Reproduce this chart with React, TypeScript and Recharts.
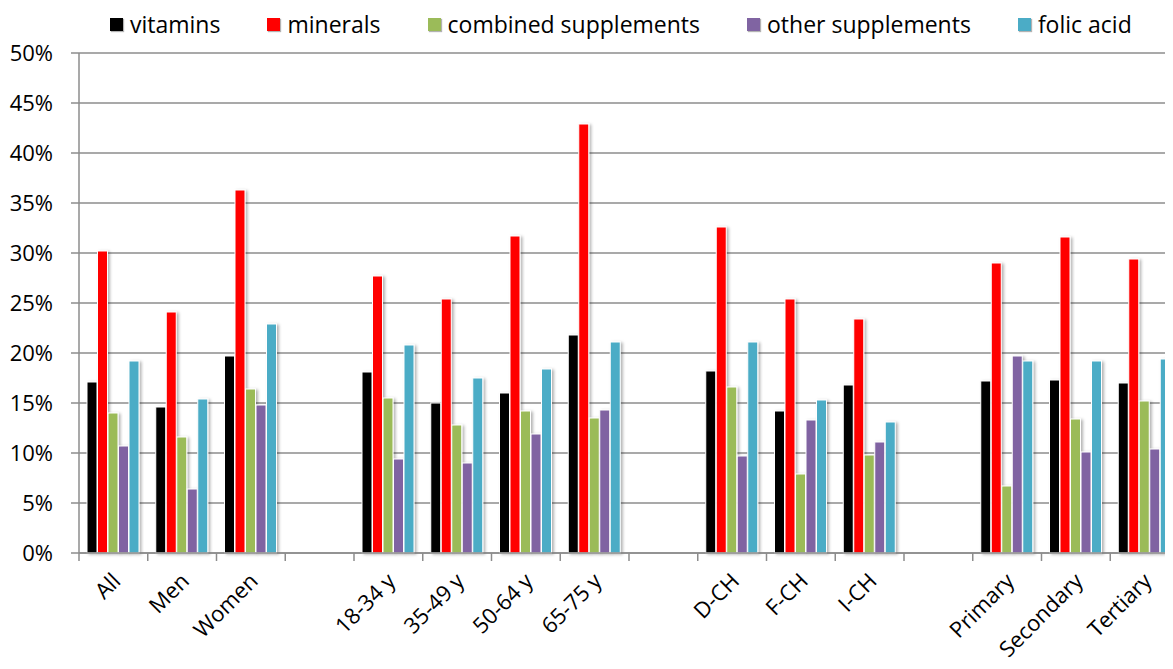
import { BarChart, Bar, XAxis, YAxis, CartesianGrid, Text } from "recharts";

const categories = ["All", "Men", "Women", "", "18-34 y", "35-49 y", "50-64 y", "65-75 y", "", "D-CH", "F-CH", "I-CH", "", "Primary", "Secondary", "Tertiary"];
const vitamins = [17.1, 14.6, 19.7, null, 18.1, 15.0, 16.0, 21.8, null, 18.2, 14.2, 16.8, null, 17.2, 17.3, 17.0];
const minerals = [30.2, 24.1, 36.3, null, 27.7, 25.4, 31.7, 42.9, null, 32.6, 25.4, 23.4, null, 29.0, 31.6, 29.4];
const combined = [14.0, 11.6, 16.4, null, 15.5, 12.8, 14.2, 13.5, null, 16.6, 7.9, 9.8, null, 6.7, 13.4, 15.2];
const other = [10.7, 6.4, 14.8, null, 9.4, 9.0, 11.9, 14.3, null, 9.7, 13.3, 11.1, null, 19.7, 10.1, 10.4];
const folic = [19.2, 15.4, 22.9, null, 20.8, 17.5, 18.4, 21.1, null, 21.1, 15.3, 13.1, null, 19.2, 19.2, 19.4];
const yTicks = [0, 5, 10, 15, 20, 25, 30, 35, 40, 45, 50];

const series = [
  { key: "vitamins", label: "vitamins", color: "#000000" },
  { key: "minerals", label: "minerals", color: "#FF0000" },
  { key: "combined", label: "combined supplements", color: "#9BBB59" },
  { key: "other", label: "other supplements", color: "#8064A2" },
  { key: "folic", label: "folic acid", color: "#4BACC6" },
];

const data = categories.map((name, i) => ({
  name,
  vitamins: vitamins[i],
  minerals: minerals[i],
  combined: combined[i],
  other: other[i],
  folic: folic[i],
}));

const FONT = "'Open Sans', sans-serif";
const GRID = "#8c8c8c";

function CatTick(props: any) {
  const { x, y, payload } = props;
  const off = payload?.offset ?? 0;
  return (
    <g>
      <line x1={x - off} x2={x - off} y1={y - 14} y2={y - 6} stroke={GRID} strokeWidth={1.5} />
      {payload.value ? (
        <Text x={x + 3} y={y + 10} angle={-45} textAnchor="end" verticalAnchor="middle" fontSize={22} fontFamily={FONT} fill="#000">
          {payload.value}
        </Text>
      ) : null}
    </g>
  );
}

function ShadowBar(props: any) {
  const { x, y, width, height, fill } = props;
  if (!height || height <= 0) return null;
  return <rect x={x} y={y} width={width} height={height} fill={fill} stroke="#fff" strokeWidth={1} filter="url(#barShadow)" />;
}

export default function App() {
  return (
    <div style={{ position: "relative", width: 1165, height: 661, overflow: "hidden", background: "#fff" }}>
      <div
        style={{
          position: "absolute",
          top: 0,
          left: 102,
          display: "flex",
          alignItems: "center",
          fontFamily: FONT,
          fontSize: 23,
          color: "#000",
          whiteSpace: "nowrap",
          zIndex: 2,
        }}
      >
        {series.map((s) => (
          <div key={s.key} style={{ display: "flex", alignItems: "center", marginRight: 47 }}>
            <span style={{ display: "inline-block", width: 13, height: 13, background: s.color, marginRight: 7, boxShadow: "1px 1px 1px rgba(0,0,0,0.3)" }} />
            <span>{s.label}</span>
          </div>
        ))}
      </div>
      <BarChart
        width={1171}
        height={661}
        data={data}
        margin={{ top: 45, right: 0, left: 0, bottom: 0 }}
        barGap={0.5}
        barSize={10}
      >
        <defs>
          <filter id="barShadow" x="-50%" y="-10%" width="200%" height="120%">
            <feDropShadow dx="2" dy="1" stdDeviation="1.5" floodColor="#000" floodOpacity="0.3" />
          </filter>
        </defs>
        <CartesianGrid vertical={false} stroke={GRID} strokeWidth={1.5} />
        <YAxis
          width={71}
          domain={[0, 50]}
          ticks={yTicks}
          interval={0}
          tickFormatter={(v) => `${v}%`}
          axisLine={{ stroke: GRID, strokeWidth: 1.5 }}
          tickLine={{ stroke: GRID, strokeWidth: 1.5 }}
          tickSize={8}
          tickMargin={18}
          tick={{ fontSize: 22, fontFamily: FONT, fill: "#000" }}
        />
        <XAxis
          dataKey="name"
          interval={0}
          height={116}
          axisLine={{ stroke: GRID, strokeWidth: 1.5 }}
          tickLine={false}
          tickSize={8}
          tickMargin={6}
          tick={<CatTick />}
        />
        {series.map((s) => (
          <Bar key={s.key} dataKey={s.key} name={s.label} fill={s.color} isAnimationActive={false} shape={<ShadowBar />} />
        ))}
      </BarChart>
    </div>
  );
}
